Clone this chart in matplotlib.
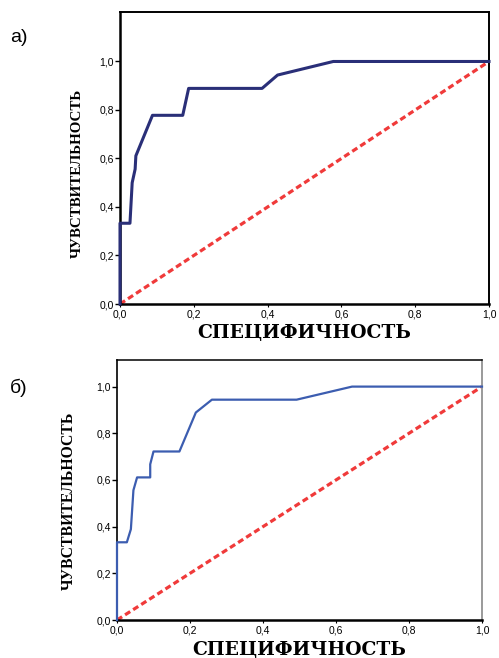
import matplotlib
matplotlib.use("Agg")
import matplotlib.pyplot as plt

# ROC curve a) : (1 - specificity, sensitivity)
fpr_a = [0.0, 0.0, 0.027, 0.033, 0.041, 0.043, 0.088, 0.170, 0.186, 0.385, 0.427, 0.578, 1.0]
tpr_a = [0.0, 0.333, 0.333, 0.500, 0.556, 0.611, 0.778, 0.778, 0.889, 0.889, 0.944, 1.0, 1.0]

# ROC curve б)
fpr_b = [0.0, 0.0, 0.027, 0.038, 0.045, 0.055, 0.091, 0.091, 0.100, 0.171, 0.216, 0.260, 0.492, 0.644, 1.0]
tpr_b = [0.0, 0.333, 0.333, 0.389, 0.556, 0.611, 0.611, 0.667, 0.722, 0.722, 0.889, 0.944, 0.944, 1.0, 1.0]

diag = [0.0, 1.0]
ticks = [0.0, 0.2, 0.4, 0.6, 0.8, 1.0]
tick_labels = ["0,0", "0,2", "0,4", "0,6", "0,8", "1,0"]

xlabel = "СПЕЦИФИЧНОСТЬ"
ylabel = "ЧУВСТВИТЕЛЬНОСТЬ"

W, H = 499, 658
fig = plt.figure(figsize=(W / 100, H / 100), dpi=100)

def px_axes(left, top, right, bottom):
    return fig.add_axes([left / W, 1 - bottom / H, (right - left) / W, (bottom - top) / H])

def setup(ax, ymax, spine_w):
    ax.set_xlim(0, 1)
    ax.set_ylim(0, ymax)
    ax.set_xticks(ticks)
    ax.set_xticklabels(tick_labels)
    ax.set_yticks(ticks)
    ax.set_yticklabels(tick_labels)
    ax.tick_params(axis="y", direction="out", length=3.5, width=1, pad=1,
                   labelsize=7.5, labelfontfamily="Liberation Sans")
    ax.tick_params(axis="x", direction="out", length=2.5, width=0.8, pad=1.5,
                   labelsize=7.5, labelfontfamily="Liberation Sans")
    for side, (w, c) in spine_w.items():
        ax.spines[side].set_linewidth(w)
        ax.spines[side].set_color(c)

# a)
ax1 = px_axes(120, 12, 489, 304)
ax1.plot(diag, diag, color="#f03a3a", lw=2.3, ls=(0, (1.9, 1.1)), zorder=2)
ax1.plot(fpr_a, tpr_a, color="#2a2f78", lw=2.2, zorder=3, clip_on=False)
setup(ax1, 1.204, {"left": (1.8, "black"), "bottom": (1.8, "black"),
                   "top": (1.4, "black"), "right": (1.4, "black")})
ax1.set_xlabel(xlabel, family="DejaVu Serif", weight="bold", fontsize=13.5, labelpad=3.5)
ax1.set_ylabel(ylabel, family="Liberation Serif", weight="bold", fontsize=10.8)
ax1.yaxis.set_label_coords(-36 / 369, 0.54 / 1.204)
fig.text(10 / W, 1 - 37 / H, "а)", fontsize=14, family="Liberation Sans", va="center")

# б)
ax2 = px_axes(117, 360, 482, 620)
ax2.plot(diag, diag, color="#f03a3a", lw=2.3, ls=(0, (1.9, 1.1)), zorder=2)
ax2.plot(fpr_b, tpr_b, color="#3c5db0", lw=1.6, zorder=3, clip_on=False)
setup(ax2, 1.114, {"left": (1.2, "black"), "bottom": (1.8, "black"),
                   "top": (1.1, "black"), "right": (1.4, "#9a9a9a")})
ax2.set_xlabel(xlabel, family="DejaVu Serif", weight="bold", fontsize=13.5, labelpad=4)
ax2.set_ylabel(ylabel, family="Liberation Serif", weight="bold", fontsize=11.3)
ax2.yaxis.set_label_coords(-40 / 365, 0.51 / 1.114)
fig.text(10 / W, 1 - 388 / H, "б)", fontsize=14, family="Liberation Sans", va="center")

fig.savefig("out.png", dpi=100)
